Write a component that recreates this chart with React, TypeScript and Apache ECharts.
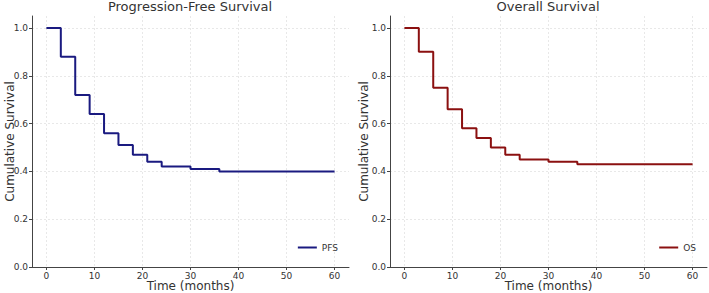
import React, { useEffect, useRef } from "react";
import * as echarts from "echarts";

// Kaplan–Meier step estimates (time in months, survival probability)
const pfsTimes = [0, 3, 6, 9, 12, 15, 18, 21, 24, 30, 36, 60];
const pfsSurvival = [1.0, 0.88, 0.72, 0.64, 0.56, 0.51, 0.47, 0.44, 0.42, 0.41, 0.4, 0.4];
const osTimes = [0, 3, 6, 9, 12, 15, 18, 21, 24, 30, 36, 60];
const osSurvival = [1.0, 0.9, 0.75, 0.66, 0.58, 0.54, 0.5, 0.47, 0.45, 0.44, 0.43, 0.43];

const xTicks = [0, 10, 20, 30, 40, 50, 60];
const yTicks = [0, 0.2, 0.4, 0.6, 0.8, 1.0];

const titles = ["Progression-Free Survival", "Overall Survival"];
const seriesNames = ["PFS", "OS"];
const colors = ["#1a1a80", "#8b1010"];

const FONT = "DejaVu Sans";
const AXIS_COLOR = "#444";
const TEXT_COLOR = "#333";

function pairs(xs: number[], ys: number[]) {
  return xs.map((x, i) => [x, ys[i]]);
}

export default function App() {
  const ref = useRef<HTMLDivElement>(null);

  useEffect(() => {
    if (!ref.current) return;
    const chart = echarts.init(ref.current, null, { renderer: "svg" });

    const grids = [
      { left: 32, right: 360, top: 16, bottom: 26, outerBoundsMode: "none", containLabel: false },
      { left: 390, right: 2, top: 16, bottom: 26, outerBoundsMode: "none", containLabel: false },
    ];
    const yNameGaps = [16, 20];

    const xAxis = grids.map((_, i) => ({
      type: "value",
      gridIndex: i,
      min: -3,
      max: 63,
      name: "Time (months)",
      nameLocation: "middle",
      nameGap: 13,
      nameMoveOverlap: false,
      nameTextStyle: { fontFamily: FONT, fontSize: 12, color: TEXT_COLOR },
      axisLine: { show: true, onZero: false, lineStyle: { color: AXIS_COLOR, width: 1 } },
      axisTick: { show: true, length: 3, customValues: xTicks, lineStyle: { color: AXIS_COLOR } },
      axisLabel: {
        customValues: xTicks,
        fontFamily: FONT,
        fontSize: 9,
        color: TEXT_COLOR,
        margin: 4,
      },
      splitLine: { show: true, lineStyle: { color: "#e2e2e2", type: [2, 2], width: 0.8 } },
    }));

    const yAxis = grids.map((_, i) => ({
      type: "value",
      gridIndex: i,
      min: 0,
      max: 1.05,
      name: "Cumulative Survival",
      nameLocation: "middle",
      nameGap: yNameGaps[i],
      nameMoveOverlap: false,
      nameTextStyle: { fontFamily: FONT, fontSize: 12, color: TEXT_COLOR },
      axisLine: { show: true, onZero: false, lineStyle: { color: AXIS_COLOR, width: 1 } },
      axisTick: { show: true, length: 3, customValues: yTicks, lineStyle: { color: AXIS_COLOR } },
      axisLabel: {
        customValues: yTicks,
        fontFamily: FONT,
        fontSize: 9,
        color: TEXT_COLOR,
        margin: 4,
        formatter: (v: number) => v.toFixed(1),
      },
      splitLine: { show: true, lineStyle: { color: "#e2e2e2", type: [2, 2], width: 0.8 } },
    }));

    const data = [pairs(pfsTimes, pfsSurvival), pairs(osTimes, osSurvival)];

    chart.setOption({
      animation: false,
      backgroundColor: "#ffffff",
      title: titles.map((t, i) => ({
        text: t,
        left: i === 0 ? 190 : 548,
        textAlign: "center",
        top: 0,
        padding: 0,
        textStyle: { fontFamily: FONT, fontSize: 13, fontWeight: "normal", color: TEXT_COLOR },
      })),
      legend: seriesNames.map((n, i) => ({
        data: [{ name: n, icon: "rect" }],
        right: i === 0 ? 366 : 8,
        bottom: 36,
        itemWidth: 19,
        itemHeight: 2,
        itemGap: 6,
        textStyle: { fontFamily: FONT, fontSize: 9, color: TEXT_COLOR },
      })),
      grid: grids,
      xAxis,
      yAxis,
      series: seriesNames.map((n, i) => ({
        name: n,
        type: "line",
        step: "end",
        xAxisIndex: i,
        yAxisIndex: i,
        symbol: "none",
        data: data[i],
        lineStyle: { color: colors[i], width: 2 },
        itemStyle: { color: colors[i] },
      })),
    });

    return () => chart.dispose();
  }, []);

  return (
    <div
      ref={ref}
      style={{ position: "absolute", left: 0, top: 0, width: 709, height: 293 }}
    />
  );
}
